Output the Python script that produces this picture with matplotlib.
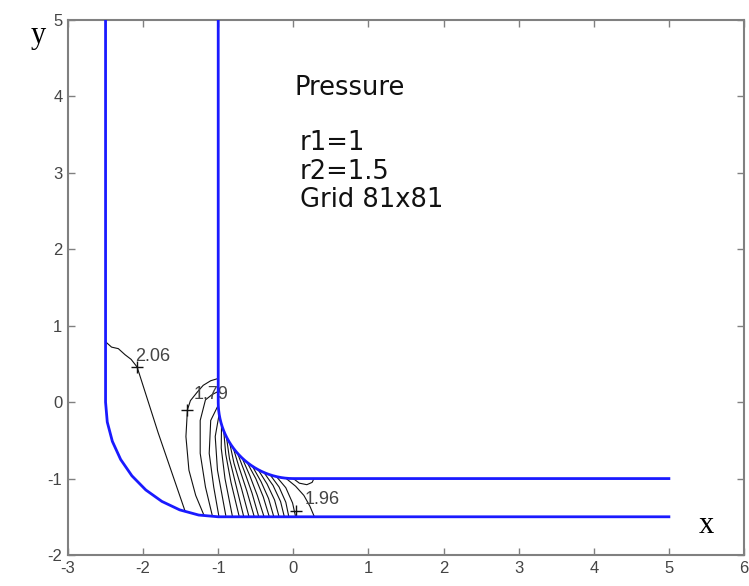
import numpy as np
import matplotlib

matplotlib.use("Agg")
import matplotlib.pyplot as plt

plt.rcParams["axes.unicode_minus"] = False

# channel geometry (from the annotation: r1 inner, r2 outer bend radius)
R1 = 1.0
R2 = 1.5
X_END = 5.0
Y_TOP = 5.0

# contour lines (data coordinates)
LINE_206_X = [-2.50, -2.42, -2.33, -2.24, -2.16, -2.08, -1.80, -1.44]
LINE_206_Y = [0.79, 0.72, 0.70, 0.62, 0.56, 0.46, -0.40, -1.43]

FAN_X = [
    [-1.00, -1.10, -1.20, -1.28, -1.37, -1.41, -1.43, -1.39, -1.30, -1.19],
    [-1.00, -1.08, -1.17, -1.24, -1.24, -1.17, -1.08],
    [-1.00, -1.10, -1.12, -1.06, -0.99],
    [-0.99, -1.04, -1.01, -0.90],
    [-0.956, -0.96, -0.91, -0.81],
    [-0.927, -0.90, -0.83, -0.72],
    [-0.891, -0.85, -0.76, -0.66],
    [-0.848, -0.79, -0.69, -0.59],
    [-0.799, -0.72, -0.62, -0.52],
    [-0.743, -0.65, -0.55, -0.46],
    [-0.682, -0.58, -0.48, -0.39],
    [-0.616, -0.50, -0.40, -0.32],
    [-0.545, -0.43, -0.33, -0.26],
    [-0.469, -0.35, -0.25, -0.19],
    [-0.391, -0.27, -0.17, -0.12],
    [-0.309, -0.19, -0.10, -0.06],
    [-0.225, -0.10, -0.01, 0.03],
    [-0.10, 0.03, 0.14, 0.22, 0.28],
    [0.00, 0.08, 0.18, 0.25, 0.27],
]
FAN_Y = [
    [0.31, 0.28, 0.22, 0.13, 0.02, -0.10, -0.45, -0.89, -1.22, -1.48],
    [0.14, 0.10, 0.03, -0.24, -0.67, -1.11, -1.48],
    [-0.04, -0.24, -0.67, -1.11, -1.50],
    [-0.17, -0.45, -0.89, -1.48],
    [-0.292, -0.60, -1.00, -1.50],
    [-0.375, -0.68, -1.05, -1.50],
    [-0.454, -0.74, -1.10, -1.50],
    [-0.530, -0.80, -1.13, -1.50],
    [-0.602, -0.86, -1.16, -1.50],
    [-0.669, -0.91, -1.19, -1.50],
    [-0.731, -0.96, -1.22, -1.50],
    [-0.788, -1.00, -1.24, -1.50],
    [-0.839, -1.04, -1.26, -1.50],
    [-0.883, -1.07, -1.28, -1.50],
    [-0.921, -1.09, -1.30, -1.50],
    [-0.951, -1.11, -1.31, -1.50],
    [-0.974, -1.12, -1.32, -1.50],
    [-0.995, -1.10, -1.22, -1.36, -1.50],
    [-1.00, -1.06, -1.08, -1.05, -1.01],
]

# contour labels: text, '+' position, text position
LABELS = ["2.06", "1.79", "1.96"]
LABEL_PLUS_X = [-2.08, -1.41, 0.03]
LABEL_PLUS_Y = [0.46, -0.10, -1.42]
LABEL_TEXT_X = [-2.10, -1.33, 0.15]
LABEL_TEXT_Y = [0.60, 0.10, -1.27]

NOTE_LINES = ["Pressure", "r1=1", "r2=1.5", "Grid 81x81"]
NOTE_X = [0.01, 0.09, 0.09, 0.09]
NOTE_Y = [4.11, 3.39, 3.01, 2.64]

BLUE = "#1a1aff"
GREY = "#808080"

fig = plt.figure(figsize=(7.49, 5.86), dpi=100)
ax = fig.add_axes([68 / 749, 31 / 586, 676 / 749, 535 / 586])

# walls
th = np.linspace(np.pi, 1.5 * np.pi, 10)
outer_x = np.concatenate([[-1 - R2, -1 - R2], -1 + R2 * np.cos(th), [X_END]])
outer_y = np.concatenate([[Y_TOP, 0], R2 * np.sin(th), [-R2]])
th2 = np.linspace(np.pi, 1.5 * np.pi, 30)
inner_x = np.concatenate([[-R1, -R1], R1 * np.cos(th2), [X_END]])
inner_y = np.concatenate([[Y_TOP, 0], R1 * np.sin(th2), [-R1]])
ax.plot(outer_x, outer_y, color=BLUE, lw=2.0, zorder=4)
ax.plot(inner_x, inner_y, color=BLUE, lw=2.0, zorder=4)

# pressure contours
ax.plot(LINE_206_X, LINE_206_Y, color="#111111", lw=0.8, zorder=3)
for xs, ys in zip(FAN_X, FAN_Y):
    ax.plot(xs, ys, color="#111111", lw=0.8, zorder=3)

ax.plot(LABEL_PLUS_X, LABEL_PLUS_Y, "+", color="#111111", ms=8, mew=1.0, zorder=3)
for txt, tx, ty in zip(LABELS, LABEL_TEXT_X, LABEL_TEXT_Y):
    ax.text(tx, ty, txt, fontsize=13, color="#444444", ha="left", va="center",
            family=["Liberation Sans", "DejaVu Sans"], zorder=3)

for txt, tx, ty in zip(NOTE_LINES, NOTE_X, NOTE_Y):
    ax.text(tx, ty, txt, fontsize=18.5, color="#111111", ha="left", va="center",
            family=["DejaVu Sans"])

ax.set_xlim(-3, 6)
ax.set_ylim(-2, 5)
ax.set_xticks(range(-3, 7))
ax.set_yticks(range(-2, 6))
ax.tick_params(direction="in", length=5, width=1.0, color=GREY, top=True, right=True,
               labelsize=12, labelcolor="#444444", pad=4)
for lab in ax.get_xticklabels() + ax.get_yticklabels():
    lab.set_family(["Liberation Sans", "DejaVu Sans"])
for sp in ax.spines.values():
    sp.set_color(GREY)
    sp.set_linewidth(1.5)

fig.text(38 / 749, 1 - 35 / 586, "y", fontsize=22, family=["Liberation Serif", "DejaVu Serif"],
         ha="center", va="center")
ax.text(0.944, 0.056, "x", fontsize=22, family=["Liberation Serif", "DejaVu Serif"],
        ha="center", va="center", transform=ax.transAxes)

fig.savefig("out.png", dpi=100)
